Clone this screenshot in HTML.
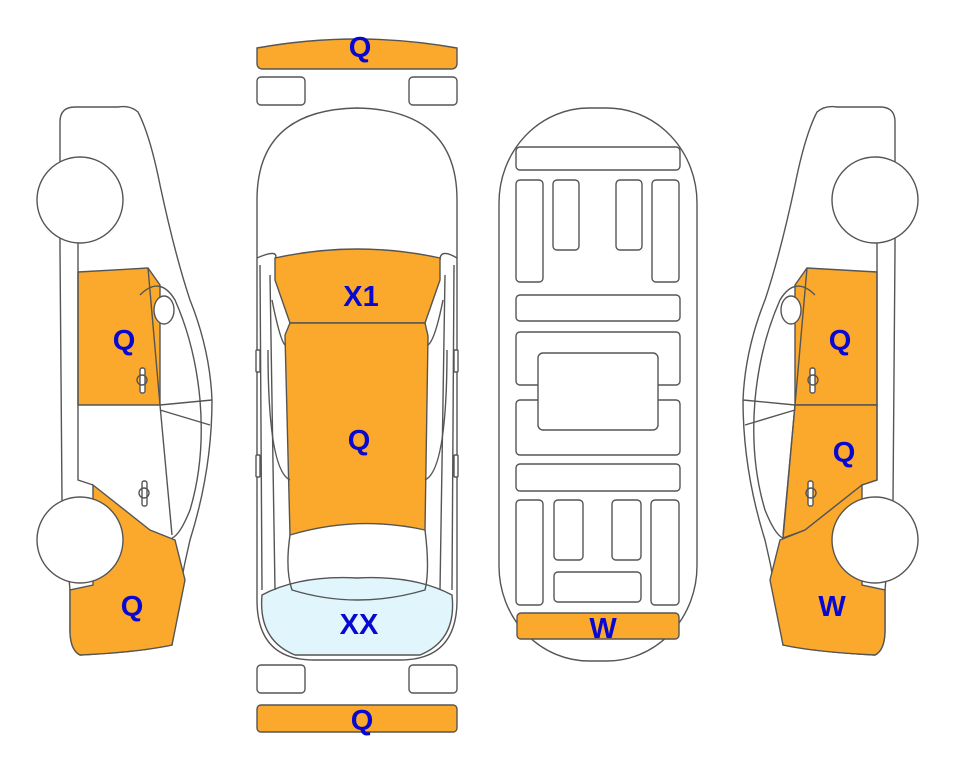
<!DOCTYPE html>
<html><head><meta charset="utf-8"><style>
html,body{margin:0;padding:0;background:#fff;}
svg{display:block}
text{font-family:"Liberation Sans",sans-serif;font-weight:bold;fill:#0808d0;font-size:29px;text-anchor:middle}
</style></head><body>
<svg width="963" height="768" viewBox="0 0 963 768" xmlns="http://www.w3.org/2000/svg">
<defs>
<g id="side" stroke="#555" stroke-width="1.4" fill="#fff">
  <path d="M60,122 Q60,107 75,107 L118,107 Q130,105 138,112 Q150,135 160,185 Q175,255 190,300 Q210,350 212,400 Q212,470 190,540 Q178,590 172,645 Q140,652 80,655 Q70,650 70,630 L70,590 L62,500 L60,250 Z"/>
  <path d="M78,272 L148,268 L160,285 L160,405 L78,405 Z" fill="#fba92c"/>
  <path d="M93,485 L150,530 L175,540 L185,580 L172,645 Q140,652 80,655 Q70,650 70,630 L70,590 L93,585 Z" fill="#fba92c"/>
  <path d="M78,240 L78,480 L93,485" fill="none"/>
  <path d="M148,268 L160,405 L172,535" fill="none"/>
  <path d="M160,405 L212,400 M160,410 L210,425" fill="none"/>
  <path d="M140,295 Q160,275 175,300 Q195,345 200,400 Q205,460 190,510 Q180,535 172,538" fill="none"/>
  <ellipse cx="164" cy="310" rx="10" ry="14"/>
  <rect x="140" y="368" width="5" height="25" rx="2"/><circle cx="142" cy="380" r="5" fill="none"/>
  <rect x="142" y="481" width="5" height="25" rx="2"/><circle cx="144" cy="493" r="5" fill="none"/>
  <circle cx="80" cy="200" r="43"/>
  <circle cx="80" cy="540" r="43"/>
</g>
</defs>

<use href="#side"/>
<text x="124" y="350">Q</text>
<text x="132" y="616">Q</text>

<g transform="translate(955,0) scale(-1,1)" stroke="#555" stroke-width="1.4" fill="#fff">
  <path d="M60,122 Q60,107 75,107 L118,107 Q130,105 138,112 Q150,135 160,185 Q175,255 190,300 Q210,350 212,400 Q212,470 190,540 Q178,590 172,645 Q140,652 80,655 Q70,650 70,630 L70,590 L62,500 L60,250 Z"/>
  <path d="M78,272 L148,268 L160,285 L160,405 L78,405 Z" fill="#fba92c"/>
  <path d="M78,405 L160,405 L172,538 L150,530 L93,485 L78,480 Z" fill="#fba92c"/>
  <path d="M93,485 L150,530 L175,540 L185,580 L172,645 Q140,652 80,655 Q70,650 70,630 L70,590 L93,585 Z" fill="#fba92c"/>
  <path d="M78,240 L78,480 L93,485" fill="none"/>
  <path d="M148,268 L160,405 L172,535" fill="none"/>
  <path d="M160,405 L212,400 M160,410 L210,425" fill="none"/>
  <path d="M140,295 Q160,275 175,300 Q195,345 200,400 Q205,460 190,510 Q180,535 172,538" fill="none"/>
  <ellipse cx="164" cy="310" rx="10" ry="14"/>
  <rect x="140" y="368" width="5" height="25" rx="2"/><circle cx="142" cy="380" r="5" fill="none"/>
  <rect x="142" y="481" width="5" height="25" rx="2"/><circle cx="144" cy="493" r="5" fill="none"/>
  <circle cx="80" cy="200" r="43"/>
  <circle cx="80" cy="540" r="43"/>
</g>
<text x="840" y="350">Q</text>
<text x="844" y="462">Q</text>
<text x="832" y="616">W</text>

<g stroke="#555" stroke-width="1.4" fill="#fff">
  <path d="M257,48 Q357,30 457,48 L457,63 Q457,69 451,69 L263,69 Q257,69 257,63 Z" fill="#fba92c"/>
  <rect x="257" y="77" width="48" height="28" rx="4"/>
  <rect x="409" y="77" width="48" height="28" rx="4"/>
  <path d="M257,200 Q257,110 357,108 Q457,110 457,200 L457,600 Q457,660 400,660 L314,660 Q257,660 257,600 Z"/>
  <path d="M262,595 Q300,575 357,578 Q415,575 452,595 Q457,640 420,655 L295,655 Q258,640 262,595 Z" fill="#e0f6fc"/>
  <path d="M257,258 Q280,248 275,260 M457,258 Q440,248 440,260" fill="none"/>
  <path d="M275,258 Q357,240 440,258 L440,280 L425,323 L290,323 L275,280 Z" fill="#fba92c"/>
  <path d="M290,323 L425,323 L428,336 L425,530 Q357,515 290,535 L285,335 Z" fill="#fba92c"/>
  <path d="M260,265 L262,590 M454,265 L452,590 M270,275 L275,590 M445,275 L440,590" fill="none"/>
  <path d="M272,300 Q280,340 285,345 M443,300 Q435,340 428,345" fill="none"/>
  <path d="M268,350 Q268,470 290,480 M447,350 Q447,470 425,480" fill="none"/>
  <path d="M290,535 Q285,570 292,590 Q357,610 425,590 Q430,570 425,530" fill="none"/>
  <rect x="256" y="350" width="4" height="22" rx="1"/>
  <rect x="454" y="350" width="4" height="22" rx="1"/>
  <rect x="256" y="455" width="4" height="22" rx="1"/>
  <rect x="454" y="455" width="4" height="22" rx="1"/>
  <rect x="257" y="665" width="48" height="28" rx="4"/>
  <rect x="409" y="665" width="48" height="28" rx="4"/>
  <rect x="257" y="705" width="200" height="27" rx="4" fill="#fba92c"/>
</g>
<text x="360" y="57">Q</text>
<text x="361" y="306">X1</text>
<text x="359" y="450">Q</text>
<text x="359" y="634">XX</text>
<text x="362" y="730">Q</text>

<g stroke="#555" stroke-width="1.4" fill="#fff">
  <rect x="499" y="108" width="198" height="553" rx="90" ry="95"/>
  <rect x="516" y="147" width="164" height="23" rx="4"/>
  <rect x="516" y="180" width="27" height="102" rx="4"/>
  <rect x="553" y="180" width="26" height="70" rx="4"/>
  <rect x="616" y="180" width="26" height="70" rx="4"/>
  <rect x="652" y="180" width="27" height="102" rx="4"/>
  <rect x="516" y="295" width="164" height="26" rx="4"/>
  <rect x="516" y="332" width="164" height="53" rx="4"/>
  <rect x="516" y="400" width="164" height="55" rx="4"/>
  <rect x="538" y="353" width="120" height="77" rx="5"/>
  <rect x="516" y="464" width="164" height="27" rx="4"/>
  <rect x="516" y="500" width="27" height="105" rx="4"/>
  <rect x="554" y="500" width="29" height="60" rx="4"/>
  <rect x="612" y="500" width="29" height="60" rx="4"/>
  <rect x="651" y="500" width="28" height="105" rx="4"/>
  <rect x="554" y="572" width="87" height="30" rx="4"/>
  <rect x="517" y="613" width="162" height="26" rx="4" fill="#fba92c"/>
</g>
<text x="603" y="638">W</text>
</svg>
</body></html>
